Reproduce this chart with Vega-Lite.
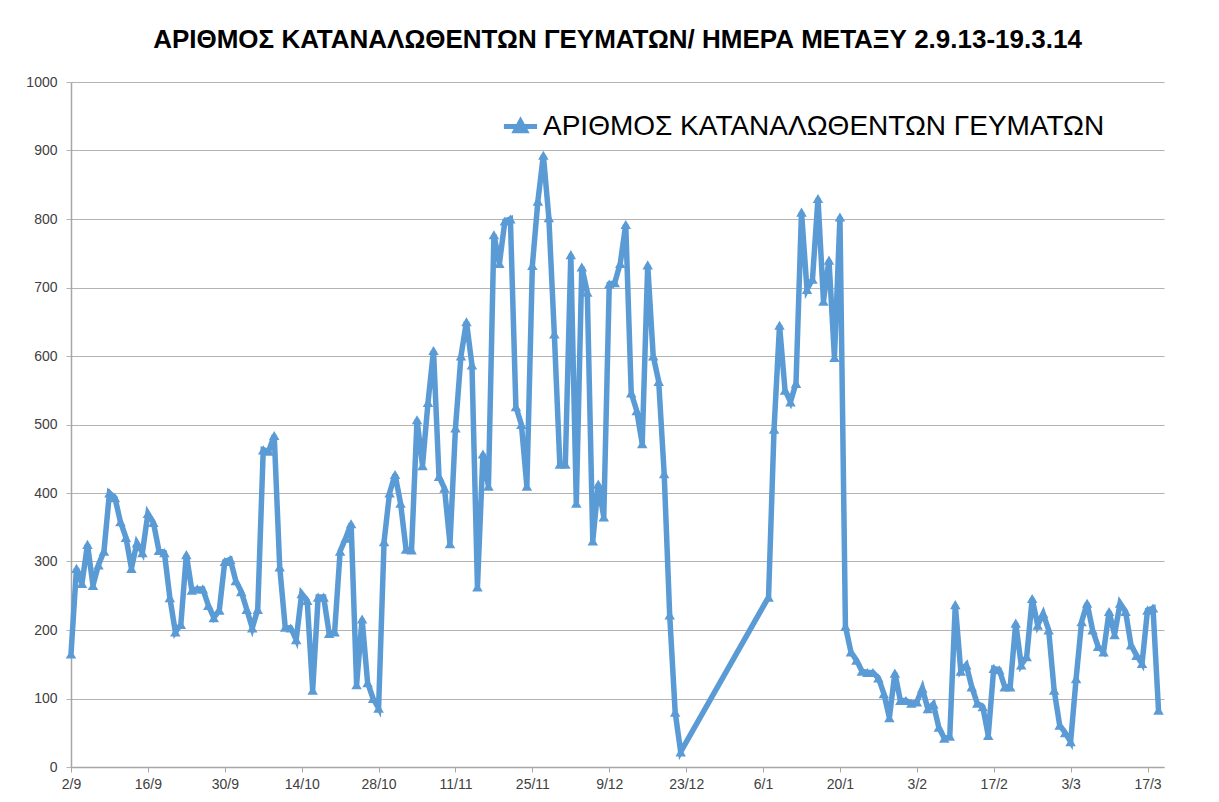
{
  "$schema": "https://vega.github.io/schema/vega-lite/v6.json",
  "width": 1093,
  "height": 685,
  "autosize": {"type": "none"},
  "padding": {"left": 71, "top": 82, "right": 55, "bottom": 35},
  "background": "white",
  "title": {
    "text": "ΑΡΙΘΜΟΣ ΚΑΤΑΝΑΛΩΘΕΝΤΩΝ ΓΕΥΜΑΤΩΝ/ ΗΜΕΡΑ ΜΕΤΑΞΥ 2.9.13-19.3.14",
    "font": "Liberation Sans",
    "fontSize": 26,
    "fontWeight": "bold",
    "color": "#000000",
    "anchor": "middle",
    "offset": 22
  },
  "data": {
    "values": [
      {"date": "2013-09-02", "value": 165}, {"date": "2013-09-03", "value": 290}, {"date": "2013-09-04", "value": 268}, {"date": "2013-09-05", "value": 325}, {"date": "2013-09-06", "value": 265}, {"date": "2013-09-07", "value": 295}, {"date": "2013-09-08", "value": 315}, {"date": "2013-09-09", "value": 400}, {"date": "2013-09-10", "value": 393}, {"date": "2013-09-11", "value": 358}, {"date": "2013-09-12", "value": 335}, {"date": "2013-09-13", "value": 290}, {"date": "2013-09-14", "value": 327}, {"date": "2013-09-15", "value": 313}, {"date": "2013-09-16", "value": 370}, {"date": "2013-09-17", "value": 357}, {"date": "2013-09-18", "value": 316}, {"date": "2013-09-19", "value": 313}, {"date": "2013-09-20", "value": 247}, {"date": "2013-09-21", "value": 197}, {"date": "2013-09-22", "value": 208}, {"date": "2013-09-23", "value": 310}, {"date": "2013-09-24", "value": 258}, {"date": "2013-09-25", "value": 260}, {"date": "2013-09-26", "value": 260}, {"date": "2013-09-27", "value": 236}, {"date": "2013-09-28", "value": 218}, {"date": "2013-09-29", "value": 229}, {"date": "2013-09-30", "value": 300},
      {"date": "2013-10-01", "value": 303}, {"date": "2013-10-02", "value": 272}, {"date": "2013-10-03", "value": 256}, {"date": "2013-10-04", "value": 230}, {"date": "2013-10-05", "value": 203}, {"date": "2013-10-06", "value": 230}, {"date": "2013-10-07", "value": 463}, {"date": "2013-10-08", "value": 461}, {"date": "2013-10-09", "value": 484}, {"date": "2013-10-10", "value": 292}, {"date": "2013-10-11", "value": 204}, {"date": "2013-10-12", "value": 203}, {"date": "2013-10-13", "value": 186}, {"date": "2013-10-14", "value": 253}, {"date": "2013-10-15", "value": 243}, {"date": "2013-10-16", "value": 112}, {"date": "2013-10-17", "value": 248}, {"date": "2013-10-18", "value": 248}, {"date": "2013-10-19", "value": 195}, {"date": "2013-10-20", "value": 197}, {"date": "2013-10-21", "value": 315}, {"date": "2013-10-22", "value": 334}, {"date": "2013-10-23", "value": 355}, {"date": "2013-10-24", "value": 120}, {"date": "2013-10-25", "value": 216}, {"date": "2013-10-26", "value": 123}, {"date": "2013-10-27", "value": 100}, {"date": "2013-10-28", "value": 86}, {"date": "2013-10-29", "value": 329}, {"date": "2013-10-30", "value": 400}, {"date": "2013-10-31", "value": 427},
      {"date": "2013-11-01", "value": 385}, {"date": "2013-11-02", "value": 318}, {"date": "2013-11-03", "value": 317}, {"date": "2013-11-04", "value": 507}, {"date": "2013-11-05", "value": 440}, {"date": "2013-11-06", "value": 532}, {"date": "2013-11-07", "value": 608}, {"date": "2013-11-08", "value": 424}, {"date": "2013-11-09", "value": 407}, {"date": "2013-11-10", "value": 326}, {"date": "2013-11-11", "value": 495}, {"date": "2013-11-12", "value": 600}, {"date": "2013-11-13", "value": 650}, {"date": "2013-11-14", "value": 587}, {"date": "2013-11-15", "value": 263}, {"date": "2013-11-16", "value": 457}, {"date": "2013-11-17", "value": 410}, {"date": "2013-11-18", "value": 777}, {"date": "2013-11-19", "value": 735}, {"date": "2013-11-20", "value": 797}, {"date": "2013-11-21", "value": 800}, {"date": "2013-11-22", "value": 526}, {"date": "2013-11-23", "value": 500}, {"date": "2013-11-24", "value": 410}, {"date": "2013-11-25", "value": 732}, {"date": "2013-11-26", "value": 826}, {"date": "2013-11-27", "value": 893}, {"date": "2013-11-28", "value": 802}, {"date": "2013-11-29", "value": 632}, {"date": "2013-11-30", "value": 442},
      {"date": "2013-12-01", "value": 442}, {"date": "2013-12-02", "value": 748}, {"date": "2013-12-03", "value": 385}, {"date": "2013-12-04", "value": 730}, {"date": "2013-12-05", "value": 693}, {"date": "2013-12-06", "value": 330}, {"date": "2013-12-07", "value": 413}, {"date": "2013-12-08", "value": 365}, {"date": "2013-12-09", "value": 705}, {"date": "2013-12-10", "value": 707}, {"date": "2013-12-11", "value": 735}, {"date": "2013-12-12", "value": 792}, {"date": "2013-12-13", "value": 546}, {"date": "2013-12-14", "value": 520}, {"date": "2013-12-15", "value": 472}, {"date": "2013-12-16", "value": 733}, {"date": "2013-12-17", "value": 600}, {"date": "2013-12-18", "value": 563}, {"date": "2013-12-19", "value": 428}, {"date": "2013-12-20", "value": 222}, {"date": "2013-12-21", "value": 80}, {"date": "2013-12-22", "value": 22},
      {"date": "2014-01-07", "value": 248}, {"date": "2014-01-08", "value": 493}, {"date": "2014-01-09", "value": 645}, {"date": "2014-01-10", "value": 550}, {"date": "2014-01-11", "value": 533}, {"date": "2014-01-12", "value": 560}, {"date": "2014-01-13", "value": 810}, {"date": "2014-01-14", "value": 697}, {"date": "2014-01-15", "value": 712}, {"date": "2014-01-16", "value": 830}, {"date": "2014-01-17", "value": 680}, {"date": "2014-01-18", "value": 740}, {"date": "2014-01-19", "value": 598}, {"date": "2014-01-20", "value": 803}, {"date": "2014-01-21", "value": 205}, {"date": "2014-01-22", "value": 168}, {"date": "2014-01-23", "value": 156}, {"date": "2014-01-24", "value": 140}, {"date": "2014-01-25", "value": 138}, {"date": "2014-01-26", "value": 138}, {"date": "2014-01-27", "value": 130}, {"date": "2014-01-28", "value": 107}, {"date": "2014-01-29", "value": 72}, {"date": "2014-01-30", "value": 137}, {"date": "2014-01-31", "value": 97},
      {"date": "2014-02-01", "value": 97}, {"date": "2014-02-02", "value": 93}, {"date": "2014-02-03", "value": 95}, {"date": "2014-02-04", "value": 115}, {"date": "2014-02-05", "value": 85}, {"date": "2014-02-06", "value": 92}, {"date": "2014-02-07", "value": 58}, {"date": "2014-02-08", "value": 42}, {"date": "2014-02-09", "value": 45}, {"date": "2014-02-10", "value": 237}, {"date": "2014-02-11", "value": 140}, {"date": "2014-02-12", "value": 149}, {"date": "2014-02-13", "value": 117}, {"date": "2014-02-14", "value": 93}, {"date": "2014-02-15", "value": 88}, {"date": "2014-02-16", "value": 46}, {"date": "2014-02-17", "value": 144}, {"date": "2014-02-18", "value": 142}, {"date": "2014-02-19", "value": 117}, {"date": "2014-02-20", "value": 117}, {"date": "2014-02-21", "value": 210}, {"date": "2014-02-22", "value": 149}, {"date": "2014-02-23", "value": 161}, {"date": "2014-02-24", "value": 246}, {"date": "2014-02-25", "value": 207}, {"date": "2014-02-26", "value": 224}, {"date": "2014-02-27", "value": 200}, {"date": "2014-02-28", "value": 112},
      {"date": "2014-03-01", "value": 61}, {"date": "2014-03-02", "value": 50}, {"date": "2014-03-03", "value": 37}, {"date": "2014-03-04", "value": 129}, {"date": "2014-03-05", "value": 212}, {"date": "2014-03-06", "value": 239}, {"date": "2014-03-07", "value": 200}, {"date": "2014-03-08", "value": 176}, {"date": "2014-03-09", "value": 168}, {"date": "2014-03-10", "value": 227}, {"date": "2014-03-11", "value": 193}, {"date": "2014-03-12", "value": 239}, {"date": "2014-03-13", "value": 227}, {"date": "2014-03-14", "value": 178}, {"date": "2014-03-15", "value": 163}, {"date": "2014-03-16", "value": 151}, {"date": "2014-03-17", "value": 229}, {"date": "2014-03-18", "value": 232}, {"date": "2014-03-19", "value": 83}
    ]
  },
  "mark": {
    "type": "line",
    "strokeWidth": 5.5,
    "strokeJoin": "miter",
    "point": {"shape": "triangle-up", "size": 110, "filled": true, "opacity": 1}
  },
  "encoding": {
    "x": {
      "field": "date",
      "type": "temporal",
      "scale": {
        "type": "utc",
        "domain": [
          {"year": 2013, "month": 9, "date": 2, "utc": true},
          {"year": 2014, "month": 3, "date": 20, "utc": true}
        ]
      },
      "axis": {
        "title": null,
        "format": "%-d/%-m",
        "values": [
          {"year": 2013, "month": 9, "date": 2, "utc": true},
          {"year": 2013, "month": 9, "date": 16, "utc": true},
          {"year": 2013, "month": 9, "date": 30, "utc": true},
          {"year": 2013, "month": 10, "date": 14, "utc": true},
          {"year": 2013, "month": 10, "date": 28, "utc": true},
          {"year": 2013, "month": 11, "date": 11, "utc": true},
          {"year": 2013, "month": 11, "date": 25, "utc": true},
          {"year": 2013, "month": 12, "date": 9, "utc": true},
          {"year": 2013, "month": 12, "date": 23, "utc": true},
          {"year": 2014, "month": 1, "date": 6, "utc": true},
          {"year": 2014, "month": 1, "date": 20, "utc": true},
          {"year": 2014, "month": 2, "date": 3, "utc": true},
          {"year": 2014, "month": 2, "date": 17, "utc": true},
          {"year": 2014, "month": 3, "date": 3, "utc": true},
          {"year": 2014, "month": 3, "date": 17, "utc": true}
        ],
        "grid": false,
        "domainColor": "#A6A6A6",
        "domainWidth": 1.5,
        "tickColor": "#A6A6A6",
        "tickSize": 5,
        "labelFont": "Liberation Sans",
        "labelFontSize": 14,
        "labelColor": "#404040",
        "labelPadding": 5,
        "labelFlush": false,
        "labelOverlap": false
      }
    },
    "y": {
      "field": "value",
      "type": "quantitative",
      "scale": {"domain": [0, 1000], "nice": false, "zero": true},
      "axis": {
        "title": null,
        "format": "d",
        "values": [0, 100, 200, 300, 400, 500, 600, 700, 800, 900, 1000],
        "grid": true,
        "gridColor": "#B3B3B3",
        "gridWidth": 1,
        "domainColor": "#A6A6A6",
        "domainWidth": 1.5,
        "tickColor": "#B3B3B3",
        "tickSize": 5,
        "labelFont": "Liberation Sans",
        "labelFontSize": 14,
        "labelColor": "#404040",
        "labelPadding": 9
      }
    },
    "color": {
      "datum": "ΑΡΙΘΜΟΣ ΚΑΤΑΝΑΛΩΘΕΝΤΩΝ ΓΕΥΜΑΤΩΝ",
      "type": "nominal",
      "scale": {"range": ["#5B9BD5"]},
      "legend": {
        "title": null,
        "orient": "none",
        "legendX": 430,
        "legendY": 25,
        "symbolType": "M-1,0L1,0M-0.3,0.25L0,-0.3L0.3,0.25Z",
        "symbolSize": 1100,
        "symbolStrokeWidth": 5,
        "labelFont": "Liberation Sans",
        "labelFontSize": 28,
        "labelColor": "#000000",
        "labelLimit": 0,
        "labelOffset": 3,
        "encode": {
          "symbols": {
            "update": {
              "fill": {"value": "#5B9BD5"},
              "stroke": {"value": "#5B9BD5"},
              "strokeWidth": {"value": 5},
              "opacity": {"value": 1}
            }
          }
        }
      }
    }
  },
  "config": {
    "view": {"stroke": null}
  }
}
